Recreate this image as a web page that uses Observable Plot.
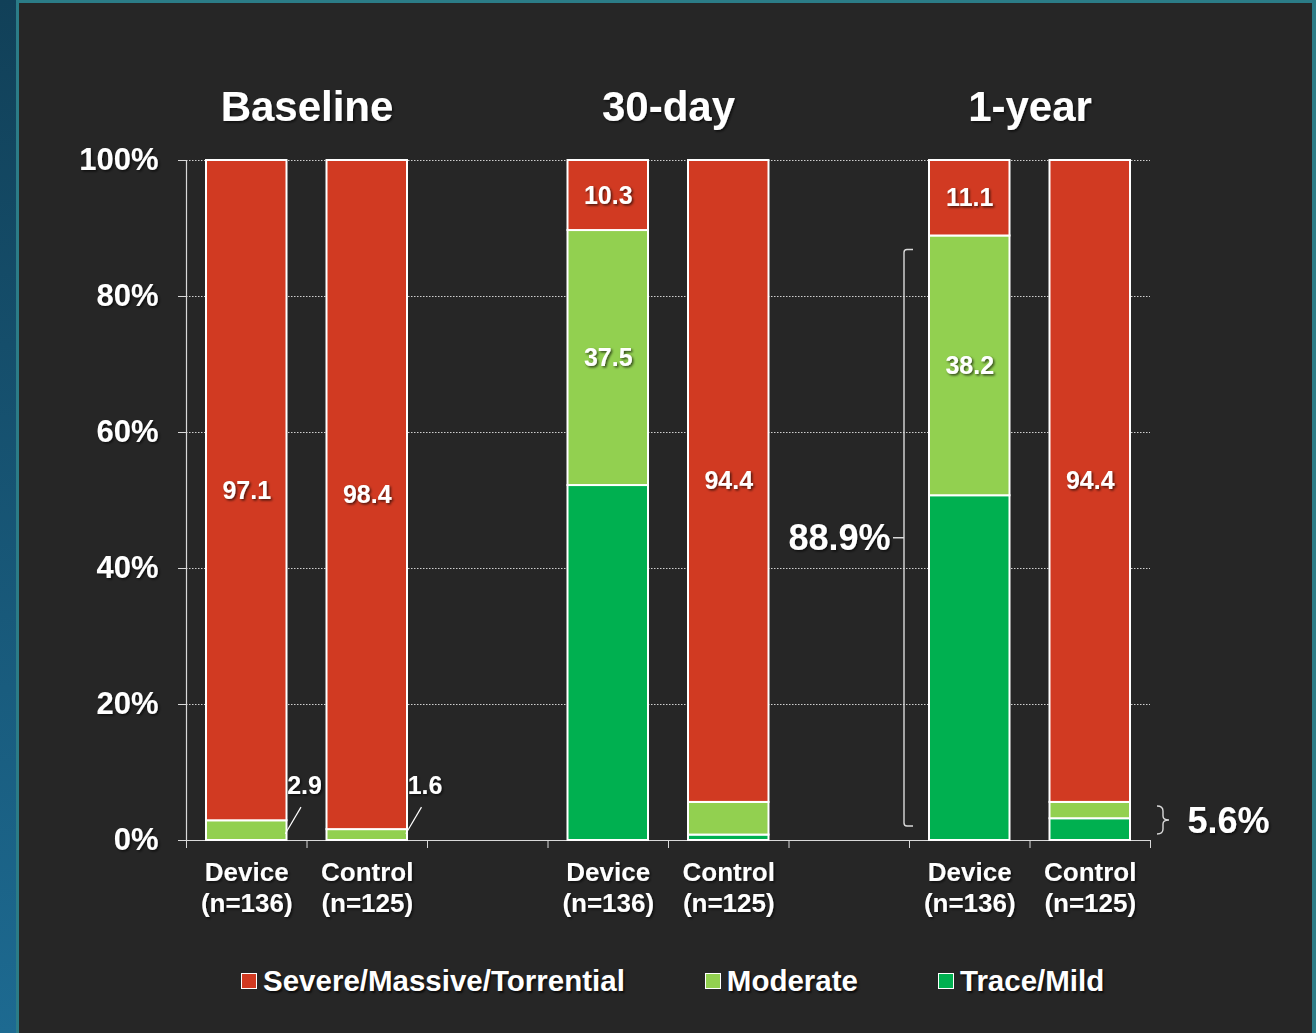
<!DOCTYPE html>
<html>
<head>
<meta charset="utf-8">
<script src="https://cdn.jsdelivr.net/npm/d3@7"></script>
<script src="https://cdn.jsdelivr.net/npm/@observablehq/plot@0.6"></script>
<style>
  html, body { margin: 0; padding: 0; }
  body {
    width: 1316px; height: 1033px; position: relative; overflow: hidden;
    background: linear-gradient(#114058, #1d6a91);
    font-family: Arial, "Liberation Sans", sans-serif;
  }
  #panel {
    position: absolute; left: 16px; top: 0; right: 0; bottom: 0;
    background: #262626;
    border-left: 3px solid #2b7c87;
    border-top: 3px solid #2b7c87;
    border-right: 4px solid #2b7c87;
  }
  #chart { position: absolute; left: 0; top: 0; }
  #legend {
    position: absolute; left: 241px; top: 964px; height: 34px;
    display: flex; align-items: center; gap: 80px;
    color: white; font-weight: bold; font-size: 29.5px; line-height: 34px;
    text-shadow: 1.5px 1.5px 2px rgba(0,0,0,0.7);
  }
  .item { display: flex; align-items: center; gap: 6px; }
  .swatch { width: 16px; height: 16px; box-sizing: border-box; border: 1.5px solid white; }
</style>
</head>
<body>
<div id="panel"></div>
<div id="chart"></div>
<div id="legend"></div>
<script>
// Tricuspid regurgitation grade by visit and treatment arm (% of patients)
const groups = ["Baseline", "30-day", "1-year"];
const arms = ["Device", "Control"];
const armN = [136, 125];
const grades = ["Severe/Massive/Torrential", "Moderate", "Trace/Mild"];
const gradeColors = ["#d13a22", "#92d050", "#00b050"];

// One entry per bar: Baseline Device, Baseline Control, 30-day Device, 30-day Control, 1-year Device, 1-year Control
const severe    = [97.1, 98.4, 10.3, 94.4, 11.1, 94.4];
const moderate  = [2.9,  1.6,  37.5, 4.8,  38.2, 2.4];
const traceMild = [0,    0,    52.2, 0.8,  50.7, 3.2];

const yTicks = [0, 20, 40, 60, 80, 100];

// Build the stacked segments (Trace/Mild at the bottom, Severe on top)
const bars = [];
groups.forEach((group, g) => {
  arms.forEach((arm, a) => {
    const i = g * arms.length + a;
    bars.push({
      group, arm, slot: g * 3 + a,
      label: `${arm}\n(n=${armN[a]})`,
      values: [severe[i], moderate[i], traceMild[i]]
    });
  });
});
const segments = [];
for (const b of bars) {
  let base = 0;
  for (const k of [2, 1, 0]) {
    const v = b.values[k];
    if (v > 0) segments.push({...b, grade: grades[k], value: v, y1: base, y2: base + v});
    base += v;
  }
}
const inner = segments.filter(s => s.grade !== "Trace/Mild" && s.value >= 8);
const callouts = segments.filter(s => s.group === "Baseline" && s.grade === "Moderate");
const improved = (b) => b.values[1] + b.values[2];
const device1y = bars.find(b => b.group === "1-year" && b.arm === "Device");
const control1y = bars.find(b => b.group === "1-year" && b.arm === "Control");

const axisGray = "#d9d9d9";
const bold = {fontWeight: "bold", fill: "white"};

const chart = Plot.plot({
  width: 1316,
  height: 940,
  marginLeft: 186,
  marginRight: 166,
  marginTop: 160,
  marginBottom: 100,
  style: {background: "transparent", color: "white", fontFamily: "Arial, 'Liberation Sans', sans-serif", overflow: "visible"},
  x: {domain: [0, 8]},
  y: {domain: [0, 100]},
  color: {domain: grades, range: gradeColors},
  marks: [
    // dotted gridlines
    Plot.ruleY(yTicks.filter(d => d > 0), {stroke: "#cfcfcf", strokeDasharray: "1.5 1.5", strokeWidth: 1}),
    // axes
    Plot.axisY(yTicks, {tickFormat: d => `${d}%`, tickSize: 8, tickPadding: 20, fontSize: 31, fontWeight: "bold", fill: "white", stroke: axisGray, label: null}),
    Plot.axisX(d3.range(9), {tickFormat: () => "", tickSize: 8, stroke: axisGray, label: null}),
    Plot.ruleY([0], {stroke: axisGray, strokeWidth: 1.2}),
    Plot.ruleX([0], {y1: 0, y2: 100, stroke: axisGray, strokeWidth: 1.2}),
    // stacked bars
    Plot.rectY(segments, {x1: "slot", x2: d => d.slot + 1, y1: "y1", y2: "y2", fill: "grade", stroke: "white", strokeWidth: 2, insetLeft: 20, insetRight: 20}),
    // values inside segments
    Plot.text(inner, {x: d => d.slot + 0.5, y: d => (d.y1 + d.y2) / 2, text: d => d.value.toFixed(1), fontSize: 25, ...bold}),
    // small baseline values with leader lines
    Plot.link(callouts, {x1: d => d.slot + 0.82, y1: 1, x2: d => d.slot + 0.95, y2: 4.9, stroke: "white", strokeWidth: 1.2}),
    Plot.text(callouts, {x: d => d.slot + 0.98, y: 8, text: d => d.value.toFixed(1), fontSize: 25, ...bold}),
    // arm labels under the axis
    Plot.text(bars, {x: d => d.slot + 0.5, y: 0, text: "label", lineAnchor: "top", dy: 19, lineHeight: 1.19, fontSize: 26, ...bold}),
    // visit titles
    Plot.text(groups, {x: (d, i) => i * 3 + 1, y: 100, dy: -53, text: d => d, fontSize: 42, ...bold}),
    // bracket spanning the improved share of the 1-year device bar
    (index, {x, y}) => {
      const total = improved(device1y);
      const x0 = x(device1y.slot) - 5;
      const top = y(total) + 14, bottom = y(0) - 14, mid = y(total / 2);
      const g = d3.create("svg:g").attr("fill", "none").attr("stroke", axisGray).attr("stroke-width", 1.4);
      g.append("path").attr("d",
        `M${x0 + 9},${top} L${x0 + 3},${top} Q${x0},${top} ${x0},${top + 3} L${x0},${bottom - 3} Q${x0},${bottom} ${x0 + 3},${bottom} L${x0 + 9},${bottom}` +
        `M${x0},${mid} L${x0 - 11},${mid}`);
      return g.node();
    },
    Plot.text([device1y], {x: d => d.slot, y: d => improved(d) / 2, dx: -19, textAnchor: "end", text: d => `${improved(d).toFixed(1)}%`, fontSize: 36, ...bold}),
    // brace beside the 1-year control bar
    (index, {x, y}) => {
      const total = improved(control1y);
      const x0 = x(control1y.slot + 1) + 7;
      const mid = y(total / 2) - 1, top = mid - 14, bottom = mid + 14;
      const g = d3.create("svg:g").attr("fill", "none").attr("stroke", axisGray).attr("stroke-width", 1.4);
      g.append("path").attr("d",
        `M${x0},${top} Q${x0 + 6},${top} ${x0 + 6},${top + 5} L${x0 + 6},${mid - 4} Q${x0 + 6},${mid} ${x0 + 12},${mid}` +
        ` Q${x0 + 6},${mid} ${x0 + 6},${mid + 4} L${x0 + 6},${bottom - 5} Q${x0 + 6},${bottom} ${x0},${bottom}`);
      return g.node();
    },
    Plot.text([control1y], {x: d => d.slot + 1, y: d => improved(d) / 2, dx: 37, textAnchor: "start", text: d => `${improved(d).toFixed(1)}%`, fontSize: 36, ...bold})
  ]
});

// soft drop shadow under all chart text
const svg = d3.select(chart);
const filter = svg.insert("defs", ":first-child").append("filter").attr("id", "txt-shadow")
  .attr("x", "-10%").attr("y", "-20%").attr("width", "130%").attr("height", "150%");
filter.append("feDropShadow").attr("dx", 1.5).attr("dy", 1.5).attr("stdDeviation", 1)
  .attr("flood-color", "#000").attr("flood-opacity", 0.65);
svg.selectAll("text").attr("filter", "url(#txt-shadow)");

document.getElementById("chart").append(chart);

// legend
const legend = d3.select("#legend");
grades.forEach((g, i) => {
  const item = legend.append("div").attr("class", "item");
  item.append("div").attr("class", "swatch").style("background", gradeColors[i]);
  item.append("span").text(g);
});
</script>
</body>
</html>
